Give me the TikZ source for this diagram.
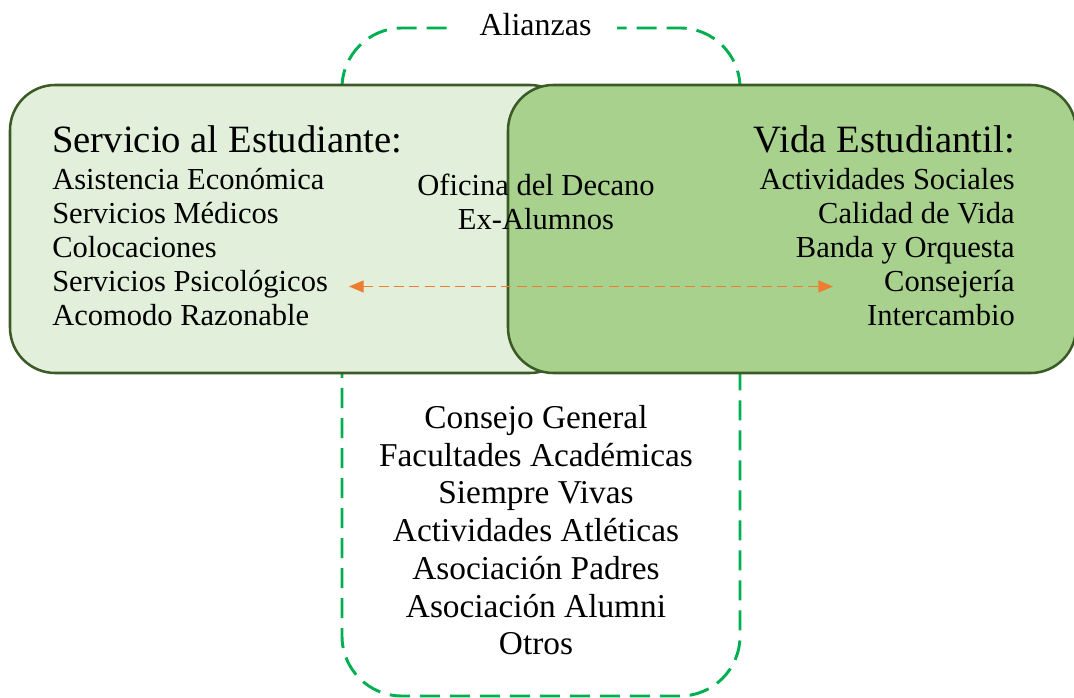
\documentclass[tikz,border=0pt]{standalone}
\usepackage{fontspec}
\setmainfont{Liberation Serif}
\usetikzlibrary{arrows.meta}
\definecolor{lightfill}{HTML}{E2EFDA}
\definecolor{midfill}{HTML}{A9D18E}
\definecolor{borderc}{HTML}{3B5A25}
\definecolor{dashgreen}{HTML}{00B050}
\definecolor{arroworange}{HTML}{ED7D31}
\begin{document}
\begin{tikzpicture}[x=0.75pt,y=-0.75pt,
 setbox/.style={draw=borderc, line width=1.9pt, rounded corners=34pt},
 alliance/.style={draw=dashgreen, line width=2.2pt, dash pattern=on 15pt off 7.5pt, rounded corners=45pt},
 titletext/.style={font=\fontsize{29}{34}\selectfont, inner sep=0pt},
 itemtext/.style={font=\fontsize{22.9}{26}\selectfont, inner sep=0pt},
 bottomtext/.style={font=\fontsize{25}{29}\selectfont, inner sep=0pt, anchor=base},
 link/.style={draw=arroworange, line width=1.1pt, dash pattern=on 7.5pt off 4pt, {Triangle[length=11pt,width=9pt]}-{Triangle[length=11pt,width=9pt]}}]
\useasboundingbox (0,0) rectangle (1074,698);
% dashed alliance frame
\draw[alliance] (342,28) rectangle (740,696);
\node[fill=white, font=\fontsize{24}{28}\selectfont, inner xsep=19pt, inner ysep=3pt, anchor=base] (alianzas) at (535.5,36) {Alianzas};
% the two sets
\draw[setbox, fill=lightfill] (10,85) rectangle (575,373);
\draw[setbox, fill=midfill] (508,85) rectangle (1076,373);
% left set
\node[titletext, anchor=base west] (sa) at (52,153) {Servicio al Estudiante:};
\node[itemtext, anchor=base west] (sa1) at (52,190) {Asistencia Económica};
\node[itemtext, anchor=base west] (sa2) at (52,224) {Servicios Médicos};
\node[itemtext, anchor=base west] (sa3) at (52,258) {Colocaciones};
\node[itemtext, anchor=base west] (sa4) at (52,292) {Servicios Psicológicos};
\node[itemtext, anchor=base west] (sa5) at (52,326) {Acomodo Razonable};
% right set
\node[titletext, anchor=base east] (ve) at (1015,153) {Vida Estudiantil:};
\node[itemtext, anchor=base east] (ve1) at (1015,190) {Actividades Sociales};
\node[itemtext, anchor=base east] (ve2) at (1015,224) {Calidad de Vida};
\node[itemtext, anchor=base east] (ve3) at (1015,258) {Banda y Orquesta};
\node[itemtext, anchor=base east] (ve4) at (1015,292) {Consejería};
\node[itemtext, anchor=base east] (ve5) at (1015,326) {Intercambio};
% overlap
\node[itemtext, anchor=base] (ov1) at (536,196) {Oficina del Decano};
\node[itemtext, anchor=base] (ov2) at (536,230) {Ex-Alumnos};
% bottom list
\node[bottomtext] (b1) at (536,428) {Consejo General};
\node[bottomtext] (b2) at (536,466) {Facultades Académicas};
\node[bottomtext] (b3) at (536,503) {Siempre Vivas};
\node[bottomtext] (b4) at (536,541) {Actividades Atléticas};
\node[bottomtext] (b5) at (536,579) {Asociación Padres};
\node[bottomtext] (b6) at (536,617) {Asociación Alumni};
\node[bottomtext] (b7) at (536,654) {Otros};
% double arrow
\coordinate (la) at (349,286.5);
\coordinate (ra) at (833,286.5);
\draw[link] (la) -- (ra);
\end{tikzpicture}
\end{document}
